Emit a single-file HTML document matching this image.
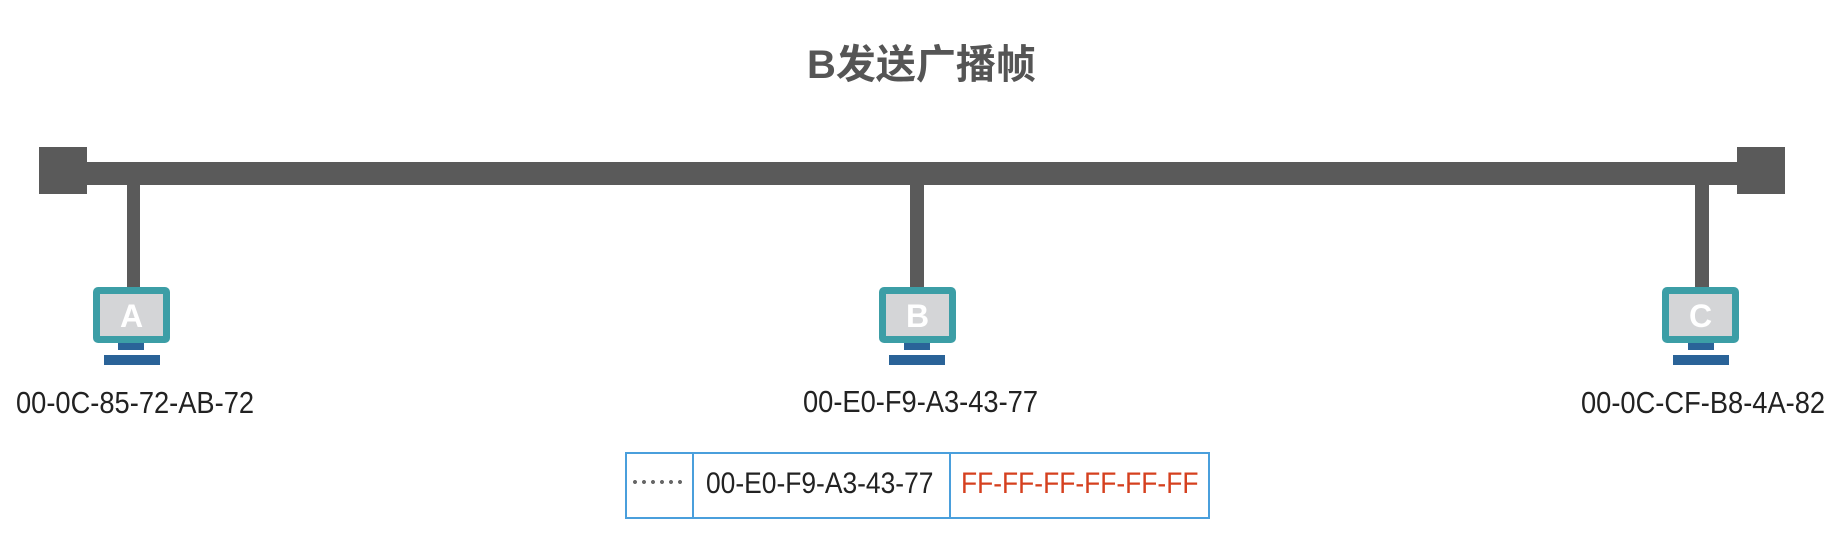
<!DOCTYPE html>
<html><head><meta charset="utf-8"><style>
body{margin:0;width:1848px;height:542px;background:#fff;position:relative;overflow:hidden;font-family:"Liberation Sans","Noto Sans CJK SC",sans-serif}
.a{position:absolute}
.g{background:#5a5a5a}
.mon{position:absolute;width:63px;height:42px;border:7px solid #3c9ea6;border-radius:5px;background:#d4d5d7;color:#fff;font-weight:bold;font-size:32px;text-align:center;line-height:44px}
.neck{position:absolute;width:26px;height:7px;background:#2a6398}
.base{position:absolute;width:56px;height:10px;background:#2a6398}
.lbl{position:absolute;font-size:31px;color:#222;white-space:nowrap;transform:scaleX(0.88);transform-origin:left top}
</style></head><body>
<div class="a" style="left:807px;top:32px;font-size:40px;font-weight:bold;color:#555;white-space:nowrap">B发送广播帧</div>
<div class="a g" style="left:39px;top:147px;width:48px;height:47px"></div>
<div class="a g" style="left:1737px;top:147px;width:48px;height:47px"></div>
<div class="a g" style="left:80px;top:162px;width:1665px;height:23px"></div>
<div class="a g" style="left:127px;top:180px;width:13px;height:108px"></div>
<div class="a g" style="left:910px;top:180px;width:14px;height:108px"></div>
<div class="a g" style="left:1695px;top:180px;width:14px;height:108px"></div>
<div class="mon" style="left:93px;top:287px">A</div>
<div class="neck" style="left:118px;top:343px"></div><div class="base" style="left:104px;top:355px"></div>
<div class="mon" style="left:879px;top:287px">B</div>
<div class="neck" style="left:904px;top:343px"></div><div class="base" style="left:889px;top:355px"></div>
<div class="mon" style="left:1662px;top:287px">C</div>
<div class="neck" style="left:1688px;top:343px"></div><div class="base" style="left:1673px;top:355px"></div>
<div class="lbl" style="left:16px;top:385px">00-0C-85-72-AB-72</div>
<div class="lbl" style="left:803px;top:384px">00-E0-F9-A3-43-77</div>
<div class="lbl" style="left:1581px;top:385px">00-0C-CF-B8-4A-82</div>
<div class="a" style="left:625px;top:452px;width:581px;height:63px;border:2px solid #4a9fdc"></div>
<div class="a" style="left:692px;top:452px;width:2px;height:67px;background:#4a9fdc"></div>
<div class="a" style="left:949px;top:452px;width:2px;height:67px;background:#4a9fdc"></div>
<div class="a" style="left:633px;top:480px;width:52px;height:4px;background:radial-gradient(circle at 2px 2px,#666 1.8px,transparent 2.2px) 0 0/9px 4px repeat-x"></div>
<div class="lbl" style="left:706px;top:467px;font-size:30px">00-E0-F9-A3-43-77</div>
<div class="lbl" style="left:961px;top:467px;font-size:30px;color:#d5401f">FF-FF-FF-FF-FF-FF</div>
</body></html>
